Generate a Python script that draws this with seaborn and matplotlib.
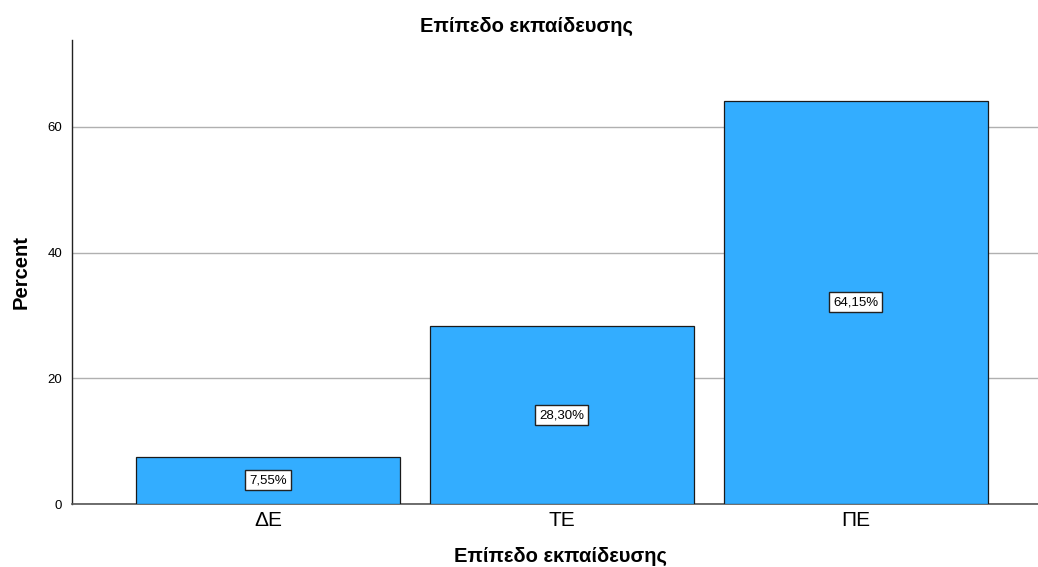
import pandas as pd
import matplotlib.pyplot as plt
import seaborn as sns

# data
categories = ['ΔΕ', 'ΤΕ', 'ΠΕ']
percents = [7.55, 28.30, 64.15]
yticks = [0, 20, 40, 60]

df = pd.DataFrame({'level': categories, 'percent': percents})

sns.set_style('white')
plt.rcParams['font.family'] = ['Liberation Sans', 'DejaVu Sans']
plt.rcParams['text.color'] = 'black'
plt.rcParams['axes.labelcolor'] = 'black'
plt.rcParams['xtick.color'] = 'black'
plt.rcParams['ytick.color'] = 'black'

fig = plt.figure(figsize=(10.38, 5.67), dpi=100)
ax = fig.add_axes([0.0694, 0.111, 0.9306, 0.8185])

sns.barplot(data=df, x='level', y='percent', color='#33adff', saturation=1,
            width=0.898, edgecolor='#1a1a1a', linewidth=0.9, ax=ax, zorder=3)

# value labels in boxes at half bar height
for i, v in enumerate(percents):
    txt = f'{v:.2f}%'.replace('.', ',')
    ax.text(i, v / 2, txt, ha='center', va='center', fontsize=9.5, zorder=5,
            bbox=dict(boxstyle='square,pad=0.3', facecolor='white',
                      edgecolor='#222222', linewidth=1))

ax.set_xlim(-0.667, 2.62)
ax.set_ylim(0, 73.8)
ax.set_yticks(yticks)
ax.yaxis.grid(True, color='#b0b0b0', linewidth=1, zorder=0)
ax.tick_params(axis='y', labelsize=9.5, length=0, pad=7)
ax.tick_params(axis='x', labelsize=15, length=0, pad=5)

for s in ['top', 'right']:
    ax.spines[s].set_visible(False)
ax.spines['left'].set_color('#222222')
ax.spines['bottom'].set_color('#555555')
ax.spines['left'].set_linewidth(1)
ax.spines['bottom'].set_linewidth(1.2)

ax.set_title('Επίπεδο εκπαίδευσης', fontsize=14.5, fontweight='bold', pad=6, x=0.47)
ax.set_xlabel('Επίπεδο εκπαίδευσης', fontsize=14.5, fontweight='bold')
ax.xaxis.set_label_coords(0.506, -0.092)
ax.xaxis.label.set_va('top')
ax.set_ylabel('Percent', fontsize=14.5, fontweight='bold', labelpad=12)

fig.savefig('out.png', dpi=100)
